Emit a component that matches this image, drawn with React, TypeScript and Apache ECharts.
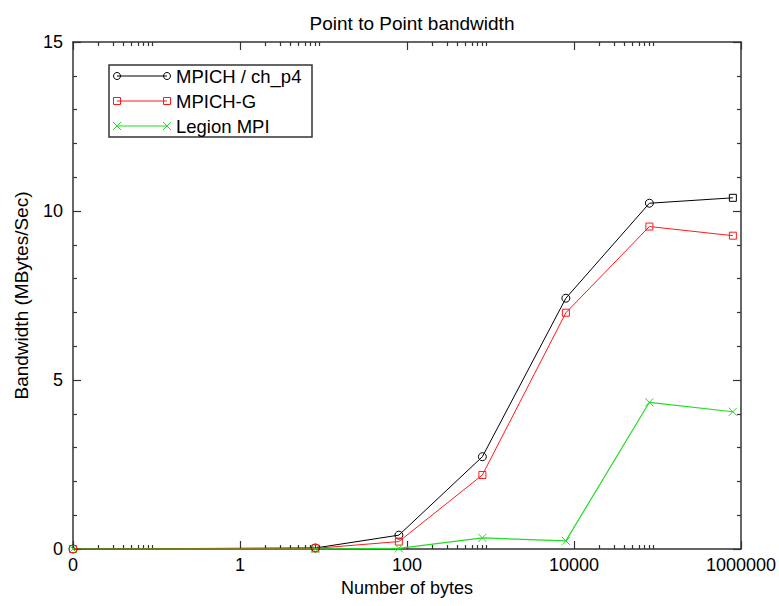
import React, { useEffect, useRef } from "react";
import * as echarts from "echarts";

// ---- data ----
const bytes = [0.01, 8, 80, 800, 8000, 80000, 800000];
const mpichP4 = [0, 0.03, 0.41, 2.73, 7.42, 10.23, 10.39];
const mpichG = [0, 0.02, 0.22, 2.19, 6.99, 9.54, 9.27];
const legionMpi = [0, 0, 0.02, 0.33, 0.24, 4.34, 4.06];
const seriesNames = ["MPICH / ch_p4", "MPICH-G", "Legion MPI"];
const xMajorTicks = [0.01, 1, 100, 10000, 1000000];
const xTickLabels = ["0", "1", "100", "10000", "1000000"];
const yRange = [0, 15];
const titleText = "Point to Point bandwidth";
const xName = "Number of bytes";
const yName = "Bandwidth (MBytes/Sec)";

const FONT = "'Liberation Sans', Arial, Helvetica, sans-serif";
const AXIS_COLOR = "#333";
const COLORS = ["#000000", "#ff1a1a", "#22dd22"];
const CROSS = "path://M0 0L10 10M10 0L0 10";

// minor ticks in the first decade after each major tick
const xMinorTicks: number[] = [];
xMajorTicks.slice(0, -1).forEach((m) => {
  for (let k = 2; k <= 9; k++) xMinorTicks.push(+(k * m).toPrecision(6));
});

const labelFor = (v: number) => {
  const i = xMajorTicks.findIndex((t) => Math.abs(Math.log10(t) - Math.log10(v)) < 1e-6);
  return i >= 0 ? xTickLabels[i] : "";
};

const pairs = (ys: number[]) => bytes.map((b, i) => [b, ys[i]]);

export default function App() {
  const ref = useRef<HTMLDivElement>(null);
  useEffect(() => {
    if (!ref.current) return;
    const chart = echarts.init(ref.current, null, { renderer: "svg" });
    const lineStyleAxis = { color: AXIS_COLOR, width: 1.5 };
    const mkX = (position: string, major: boolean, primary: boolean) => ({
      type: "log",
      logBase: 10,
      min: xMajorTicks[0],
      max: xMajorTicks[xMajorTicks.length - 1],
      position,
      axisLine: { show: major, onZero: false, lineStyle: lineStyleAxis },
      axisTick: {
        show: true,
        inside: true,
        length: major ? 8 : 4,
        customValues: major ? xMajorTicks : xMinorTicks,
        lineStyle: { color: AXIS_COLOR, width: 1.2 },
      },
      axisLabel: primary
        ? {
            show: true,
            customValues: xMajorTicks,
            formatter: (v: number) => labelFor(v),
            fontSize: 18,
            color: "#000",
            fontFamily: FONT,
            margin: 7,
          }
        : { show: false },
      splitLine: { show: false },
      minorTick: { show: false },
      name: primary ? xName : "",
      nameLocation: "middle",
      nameGap: 30,
      nameTextStyle: { fontSize: 18, color: "#000", fontFamily: FONT },
    });
    const mkY = (position: string, primary: boolean) => ({
      type: "value",
      min: yRange[0],
      max: yRange[1],
      interval: 5,
      position,
      axisLine: { show: true, onZero: false, lineStyle: lineStyleAxis },
      axisTick: { show: true, inside: true, length: 8, lineStyle: { color: AXIS_COLOR, width: 1.2 } },
      minorTick: { show: true, splitNumber: 5, length: 4, lineStyle: { color: AXIS_COLOR, width: 1.2 } },
      axisLabel: primary
        ? { show: true, fontSize: 18, color: "#000", fontFamily: FONT, margin: 10 }
        : { show: false },
      splitLine: { show: false },
      name: primary ? yName : "",
      nameLocation: "middle",
      nameGap: 42,
      nameRotate: 90,
      nameTextStyle: { fontSize: 19, color: "#000", fontFamily: FONT },
    });

    const p4Data: any[] = pairs(mpichP4);
    p4Data[p4Data.length - 1] = {
      value: p4Data[p4Data.length - 1],
      symbol: "rect",
      symbolSize: 7,
    };

    const legendRows = [101 - 25, 101, 101 + 25];
    const legendChildren: any[] = [
      {
        type: "rect",
        shape: { x: 109, y: 65, width: 203, height: 72 },
        style: { fill: "#fff", stroke: AXIS_COLOR, lineWidth: 1.5 },
      },
    ];
    const marker = (kind: number, cx: number, cy: number, color: string) => {
      if (kind === 0)
        return [{ type: "circle", shape: { cx, cy, r: 3.5 }, style: { fill: "none", stroke: color, lineWidth: 1 } }];
      if (kind === 1)
        return [
          {
            type: "rect",
            shape: { x: cx - 3.5, y: cy - 3.5, width: 7, height: 7 },
            style: { fill: "none", stroke: color, lineWidth: 1 },
          },
        ];
      return [
        { type: "line", shape: { x1: cx - 4, y1: cy - 4, x2: cx + 4, y2: cy + 4 }, style: { stroke: color, lineWidth: 1 } },
        { type: "line", shape: { x1: cx - 4, y1: cy + 4, x2: cx + 4, y2: cy - 4 }, style: { stroke: color, lineWidth: 1 } },
      ];
    };
    seriesNames.forEach((name, i) => {
      const y = legendRows[i];
      legendChildren.push({
        type: "line",
        shape: { x1: 117, y1: y, x2: 167, y2: y },
        style: { stroke: COLORS[i], lineWidth: 1.1 },
      });
      legendChildren.push(...marker(i, 117, y, COLORS[i]));
      legendChildren.push(...marker(i, 167, y, COLORS[i]));
      legendChildren.push({
        type: "text",
        x: 176,
        y,
        style: { text: name, fontSize: 18.5, fontFamily: FONT, fill: "#000", verticalAlign: "middle", align: "left" },
      });
    });

    const openMarker = (c: string) => ({ color: "rgba(255,255,255,0)", borderColor: c, borderWidth: 1 });

    chart.setOption({
      animation: false,
      backgroundColor: "#fff",
      title: {
        text: titleText,
        left: 407,
        textAlign: "center",
        top: 9,
        textStyle: { fontSize: 19, fontWeight: "normal", color: "#000", fontFamily: FONT },
      },
      grid: { left: 73, right: 34, top: 42, bottom: 57, containLabel: false },
      xAxis: [mkX("bottom", true, true), mkX("bottom", false, false), mkX("top", true, false), mkX("top", false, false)],
      yAxis: [mkY("left", true), mkY("right", false)],
      graphic: [{ type: "group", children: legendChildren, z: 100 }],
      series: [
        {
          name: seriesNames[0],
          type: "line",
          data: p4Data,
          symbol: "circle",
          symbolSize: 8,
          itemStyle: openMarker(COLORS[0]),
          lineStyle: { color: COLORS[0], width: 1 },
        },
        {
          name: seriesNames[1],
          type: "line",
          data: pairs(mpichG),
          symbol: "rect",
          symbolSize: 7,
          itemStyle: openMarker(COLORS[1]),
          lineStyle: { color: COLORS[1], width: 1 },
        },
        {
          name: seriesNames[2],
          type: "line",
          data: pairs(legionMpi),
          symbol: CROSS,
          symbolSize: 8,
          itemStyle: { color: "none", borderColor: COLORS[2], borderWidth: 1 },
          lineStyle: { color: COLORS[2], width: 1.2 },
        },
      ],
    });
    return () => chart.dispose();
  }, []);
  return (
    <div
      ref={ref}
      style={{ position: "fixed", left: 0, top: 0, width: 779, height: 606, background: "#fff" }}
    />
  );
}
